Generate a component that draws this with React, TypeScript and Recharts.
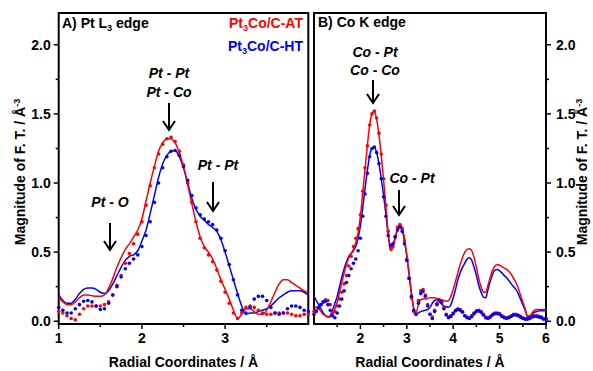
import React from "react";
import { LineChart, Line, XAxis, YAxis, ReferenceArea } from "recharts";

const RED = "#ff0000";
const BLUE = "#0000ff";
const FONT = "'Liberation Sans', Arial, Helvetica, sans-serif";

// Radial grid, 0.05 Å apart, starting at 1.00 Å
const R_STEP = 0.05;

// ---- A) Pt L3 edge, R = 1.00 .. 4.00 ----
const ptAtExp = [
  0.17, 0.14, 0.12, 0.12, 0.14, 0.17, 0.19, 0.19, 0.185, 0.18,
  0.18, 0.19, 0.24, 0.31, 0.39, 0.46, 0.52, 0.56, 0.61, 0.66,
  0.74, 0.87, 1.0, 1.12, 1.23, 1.29, 1.32, 1.32, 1.29, 1.22,
  1.12, 0.99, 0.85, 0.72, 0.61, 0.54, 0.5, 0.45, 0.38, 0.3,
  0.23, 0.16, 0.08, 0.02, 0.05, 0.09, 0.09, 0.07, 0.05, 0.05,
  0.08, 0.14, 0.21, 0.27, 0.3, 0.3, 0.28, 0.26, 0.24, 0.22,
  0.21,
];
const ptAtFit = [
  0.07, 0.06, 0.04, 0.02, 0.01, 0.05, 0.09, 0.11, 0.11, 0.11,
  0.11, 0.12, 0.14, 0.19, 0.26, 0.33, 0.42, 0.49, 0.56, 0.63,
  0.72, 0.84, 0.98, 1.11, 1.21, 1.28, 1.32, 1.33, 1.3, 1.23,
  1.13, 1.0, 0.86, 0.72, 0.6, 0.53, 0.48, 0.43, 0.37, 0.29,
  0.21, 0.13, 0.06, 0.02, 0.06, 0.1, 0.11, 0.1, 0.08, 0.06,
  0.05, 0.05, 0.06, 0.06, 0.06, 0.06, 0.05, 0.04, 0.04, 0.05,
  0.05,
];
const ptHtExp = [
  0.19, 0.15, 0.13, 0.13, 0.16, 0.2, 0.23, 0.24, 0.24, 0.23,
  0.21, 0.2, 0.22, 0.27, 0.33, 0.39, 0.44, 0.47, 0.48, 0.51,
  0.58, 0.66, 0.78, 0.91, 1.04, 1.14, 1.2, 1.23, 1.235, 1.19,
  1.11, 1.0, 0.89, 0.81, 0.76, 0.73, 0.7, 0.68, 0.65, 0.59,
  0.5, 0.4, 0.3, 0.2, 0.11, 0.05, 0.06, 0.06, 0.07, 0.08,
  0.09, 0.11, 0.14, 0.17, 0.19, 0.21, 0.22, 0.22, 0.22, 0.21,
  0.19,
];
const ptHtFit = [
  0.1, 0.08, 0.06, 0.06, 0.09, 0.12, 0.145, 0.15, 0.14, 0.11,
  0.085, 0.09, 0.13, 0.19, 0.25, 0.32, 0.38, 0.42, 0.45, 0.48,
  0.54, 0.62, 0.72, 0.86, 1.0, 1.11, 1.19, 1.23, 1.235, 1.2,
  1.12, 1.02, 0.91, 0.82, 0.77, 0.74, 0.72, 0.7, 0.66, 0.6,
  0.51, 0.41, 0.3, 0.19, 0.08, 0.06, 0.1, 0.16, 0.18, 0.18,
  0.15, 0.1, 0.06, 0.05, 0.06, 0.09, 0.11, 0.11, 0.1, 0.08,
  0.07,
];

// ---- B) Co K edge, R = 1.00 .. 6.00 ----
const coAtExp = [
  0.11, 0.1, 0.09, 0.07, 0.05, 0.04, 0.035, 0.03, 0.05, 0.09,
  0.14, 0.21, 0.28, 0.35, 0.41, 0.46, 0.49, 0.52, 0.57, 0.64,
  0.76, 0.93, 1.1, 1.27, 1.42, 1.5, 1.52, 1.46, 1.35, 1.2,
  1.02, 0.83, 0.63, 0.51, 0.53, 0.6, 0.67, 0.7, 0.68, 0.6,
  0.48, 0.34, 0.2, 0.09, 0.06, 0.12, 0.155, 0.16, 0.16, 0.165,
  0.17, 0.17, 0.17, 0.165, 0.16, 0.155, 0.15, 0.145, 0.15, 0.18,
  0.23, 0.29, 0.35, 0.41, 0.46, 0.5, 0.52, 0.525, 0.51, 0.46,
  0.39, 0.31, 0.25, 0.21, 0.21, 0.26, 0.32, 0.37, 0.4, 0.41,
  0.405, 0.395, 0.385, 0.375, 0.36, 0.34, 0.31, 0.28, 0.24, 0.19,
  0.14, 0.09, 0.04, 0.04, 0.06, 0.08, 0.085, 0.085, 0.085, 0.085,
  0.08,
];
const coAtFit = [
  0.07, 0.08, 0.1, 0.12, 0.14, 0.155, 0.15, 0.12, 0.065, 0.07,
  0.11, 0.16, 0.21, 0.27, 0.33, 0.4, 0.47, 0.54, 0.6, 0.67,
  0.77, 0.94, 1.11, 1.27, 1.42, 1.5, 1.52, 1.47, 1.36, 1.21,
  1.03, 0.84, 0.65, 0.53, 0.54, 0.61, 0.68, 0.7, 0.67, 0.58,
  0.45, 0.31, 0.17, 0.07, 0.05, 0.15, 0.22, 0.23, 0.19, 0.12,
  0.05, 0.03, 0.08, 0.13, 0.155, 0.14, 0.1, 0.05, 0.03, 0.04,
  0.06, 0.08, 0.09, 0.085, 0.07, 0.04, 0.03, 0.025, 0.04, 0.06,
  0.075, 0.08, 0.07, 0.05, 0.03, 0.025, 0.035, 0.05, 0.06, 0.06,
  0.055, 0.04, 0.03, 0.025, 0.03, 0.04, 0.05, 0.05, 0.045, 0.035,
  0.025, 0.02, 0.02, 0.025, 0.035, 0.04, 0.04, 0.035, 0.03, 0.02,
  0.02,
];
const coHtExp = [
  0.18, 0.15, 0.12, 0.09, 0.06, 0.04, 0.03, 0.04, 0.08, 0.13,
  0.18, 0.25, 0.32, 0.38, 0.43, 0.47, 0.49, 0.51, 0.54, 0.6,
  0.69, 0.82, 0.96, 1.09, 1.2, 1.25, 1.26, 1.22, 1.14, 1.03,
  0.91, 0.77, 0.62, 0.54, 0.55, 0.61, 0.66, 0.685, 0.66, 0.58,
  0.47, 0.34, 0.2, 0.09, 0.05, 0.06, 0.07, 0.075, 0.08, 0.085,
  0.1, 0.13, 0.15, 0.155, 0.14, 0.125, 0.11, 0.105, 0.1, 0.12,
  0.17, 0.23, 0.3, 0.35, 0.39, 0.42, 0.45, 0.46, 0.44, 0.39,
  0.33, 0.26, 0.21, 0.175, 0.17, 0.23, 0.29, 0.34, 0.37, 0.375,
  0.365, 0.35, 0.33, 0.315, 0.295, 0.27, 0.25, 0.23, 0.2, 0.16,
  0.12, 0.08, 0.035, 0.035, 0.05, 0.065, 0.07, 0.075, 0.075, 0.075,
  0.075,
];
const coHtFit = [
  0.05, 0.07, 0.1, 0.12, 0.14, 0.145, 0.12, 0.08, 0.04, 0.025,
  0.06, 0.11, 0.16, 0.22, 0.28, 0.33, 0.38, 0.42, 0.45, 0.51,
  0.6, 0.76, 0.92, 1.07, 1.19, 1.25, 1.26, 1.22, 1.14, 1.03,
  0.9, 0.76, 0.62, 0.55, 0.56, 0.61, 0.66, 0.68, 0.65, 0.56,
  0.44, 0.31, 0.18, 0.08, 0.05, 0.13, 0.2, 0.215, 0.18, 0.11,
  0.05, 0.02, 0.07, 0.12, 0.15, 0.135, 0.09, 0.045, 0.025, 0.035,
  0.055, 0.075, 0.085, 0.08, 0.065, 0.04, 0.025, 0.02, 0.035, 0.055,
  0.07, 0.075, 0.065, 0.045, 0.025, 0.02, 0.03, 0.045, 0.055, 0.055,
  0.05, 0.035, 0.025, 0.02, 0.025, 0.035, 0.045, 0.045, 0.04, 0.03,
  0.02, 0.015, 0.015, 0.02, 0.03, 0.035, 0.035, 0.03, 0.025, 0.015,
  0.015,
];

const yTicks = [0, 0.25, 0.5, 0.75, 1.0, 1.25, 1.5, 1.75, 2.0];
const xTicksA = [1, 1.5, 2, 2.5, 3, 3.5];
const xTicksB = [1.5, 2, 2.5, 3, 3.5, 4, 4.5, 5, 5.5, 6];
const Y_DOMAIN: [number, number] = [-0.02, 2.23];

function buildRows(atExp: number[], atFit: number[], htExp: number[], htFit: number[]) {
  return atExp.map((_, i) => ({
    r: Math.round((1 + i * R_STEP) * 100) / 100,
    atExp: atExp[i],
    atFit: atFit[i],
    htExp: htExp[i],
    htFit: htFit[i],
  }));
}

const rowsA = buildRows(ptAtExp, ptAtFit, ptHtExp, ptHtFit);
const rowsB = buildRows(coAtExp, coAtFit, coHtExp, coHtFit);

const isMajor = (v: number, every: number) =>
  Math.abs(v / every - Math.round(v / every)) < 1e-6;

const labelStyle = { fontFamily: FONT, fontWeight: 700, fontSize: 14, fill: "#000" };

function LeftTick(props: any) {
  const { x, y, payload } = props;
  const major = isMajor(payload.value, 0.5);
  return (
    <g>
      <line x1={x} x2={x - (major ? 5 : 3)} y1={y} y2={y} stroke="#000" strokeWidth={1.5} />
      {major && (
        <text x={x - 8} y={y + 5} textAnchor="end" style={labelStyle}>
          {payload.value.toFixed(1)}
        </text>
      )}
    </g>
  );
}

function RightTick(props: any) {
  const { x, y, payload } = props;
  const major = isMajor(payload.value, 0.5);
  return (
    <g>
      <line x1={x} x2={x + (major ? 5 : 3)} y1={y} y2={y} stroke="#000" strokeWidth={1.5} />
      {major && (
        <text x={x + 10} y={y + 5} textAnchor="start" style={labelStyle}>
          {payload.value.toFixed(1)}
        </text>
      )}
    </g>
  );
}

function BottomTick(props: any) {
  const { x, y, payload } = props;
  const major = isMajor(payload.value, 1);
  return (
    <g>
      <line x1={x} x2={x} y1={y} y2={y + (major ? 5 : 3)} stroke="#000" strokeWidth={1.5} />
      {major && (
        <text x={x} y={y + 19} textAnchor="middle" style={labelStyle}>
          {payload.value}
        </text>
      )}
    </g>
  );
}

function seriesLines() {
  return [
    <Line key="htExp" type="monotone" dataKey="htExp" stroke={BLUE} strokeWidth={1.5} dot={false} activeDot={false} isAnimationActive={false} />,
    <Line key="atExp" type="monotone" dataKey="atExp" stroke={RED} strokeWidth={1.5} dot={false} activeDot={false} isAnimationActive={false} />,
    <Line key="atFit" type="monotone" dataKey="atFit" stroke="none" dot={{ r: 1.8, fill: RED, stroke: "none" }} activeDot={false} isAnimationActive={false} />,
    <Line key="htFit" type="monotone" dataKey="htFit" stroke="none" dot={{ r: 1.8, fill: BLUE, stroke: "none" }} activeDot={false} isAnimationActive={false} />,
  ];
}

function Arrow({ x, y1, y2 }: { x: number; y1: number; y2: number }) {
  return (
    <g stroke="#000" strokeWidth={2} fill="none">
      <line x1={x} x2={x} y1={y1} y2={y2} />
      <polyline points={`${x - 6},${y2 - 9} ${x},${y2} ${x + 6},${y2 - 9}`} />
    </g>
  );
}

export default function App() {
  const ann = { ...labelStyle, fontStyle: "italic" as const };
  return (
    <div style={{ position: "absolute", left: 0, top: 0, width: 593, height: 371, background: "#fff" }}>
      <div style={{ position: "absolute", left: 0, top: 0 }}>
        <LineChart width={320} height={371} data={rowsA} margin={{ top: 13, right: 11.7, bottom: 17, left: 13.7 }}>
          <XAxis dataKey="r" type="number" domain={[1, 4]} ticks={xTicksA} interval={0} height={30}
            axisLine={false} tickLine={false} tickSize={0} tickMargin={0} tick={<BottomTick />} />
          <YAxis type="number" domain={Y_DOMAIN} ticks={yTicks} interval={0} width={45}
            axisLine={false} tickLine={false} tickSize={0} tickMargin={0} tick={<LeftTick />} />
          <ReferenceArea x1={1} x2={4} y1={Y_DOMAIN[0]} y2={Y_DOMAIN[1]} fill="none" stroke="#000" strokeWidth={2} />
          {seriesLines()}
        </LineChart>
      </div>
      <div style={{ position: "absolute", left: 300, top: 0 }}>
        <LineChart width={293} height={371} data={rowsB} margin={{ top: 13, right: 0, bottom: 17, left: 14 }}>
          <XAxis dataKey="r" type="number" domain={[1, 6]} ticks={xTicksB} interval={0} height={30}
            axisLine={false} tickLine={false} tickSize={0} tickMargin={0} tick={<BottomTick />} />
          <YAxis orientation="right" type="number" domain={Y_DOMAIN} ticks={yTicks} interval={0} width={47}
            axisLine={false} tickLine={false} tickSize={0} tickMargin={0} tick={<RightTick />} />
          <ReferenceArea x1={1} x2={6} y1={Y_DOMAIN[0]} y2={Y_DOMAIN[1]} fill="none" stroke="#000" strokeWidth={2} />
          {seriesLines()}
        </LineChart>
      </div>
      <svg width={593} height={371} style={{ position: "absolute", left: 0, top: 0, pointerEvents: "none" }}>
        {/* axis titles */}
        <text transform="translate(25,172) rotate(-90)" textAnchor="middle" style={labelStyle}>
          Magnitude of F. T. / Å<tspan dy={-5} fontSize={9}>-3</tspan>
        </text>
        <text transform="translate(587,172) rotate(-90)" textAnchor="middle" style={labelStyle}>
          Magnitude of F. T. / Å<tspan dy={-5} fontSize={9}>-3</tspan>
        </text>
        <text x={183.5} y={367} textAnchor="middle" style={labelStyle}>Radial Coordinates / Å</text>
        <text x={430} y={367} textAnchor="middle" style={labelStyle}>Radial Coordinates / Å</text>

        {/* panel titles */}
        <text x={62} y={27.5} style={labelStyle}>
          A) Pt L<tspan dy={3} fontSize={9}>3</tspan><tspan dy={-3}> edge</tspan>
        </text>
        <text x={318} y={27} style={labelStyle}>B) Co K edge</text>

        {/* legend */}
        <text x={303} y={28} textAnchor="end" style={{ ...labelStyle, fill: RED }}>
          Pt<tspan dy={3} fontSize={9}>3</tspan><tspan dy={-3}>Co/C-AT</tspan>
        </text>
        <text x={303} y={51} textAnchor="end" style={{ ...labelStyle, fill: BLUE }}>
          Pt<tspan dy={3} fontSize={9}>3</tspan><tspan dy={-3}>Co/C-HT</tspan>
        </text>

        {/* annotations, panel A */}
        <text x={169} y={78} textAnchor="middle" style={ann}>Pt - Pt</text>
        <text x={169} y={97} textAnchor="middle" style={ann}>Pt - Co</text>
        <Arrow x={169} y1={103} y2={130} />
        <text x={218} y={170} textAnchor="middle" style={ann}>Pt - Pt</text>
        <Arrow x={213} y1={182} y2={211} />
        <text x={110} y={207} textAnchor="middle" style={ann}>Pt - O</text>
        <Arrow x={110} y1={223} y2={250} />

        {/* annotations, panel B */}
        <text x={375} y={57} textAnchor="middle" style={ann}>Co - Pt</text>
        <text x={375} y={75} textAnchor="middle" style={ann}>Co - Co</text>
        <Arrow x={373} y1={80} y2={103} />
        <text x={412} y={183} textAnchor="middle" style={ann}>Co - Pt</text>
        <Arrow x={399} y1={190} y2={215} />
      </svg>
    </div>
  );
}
